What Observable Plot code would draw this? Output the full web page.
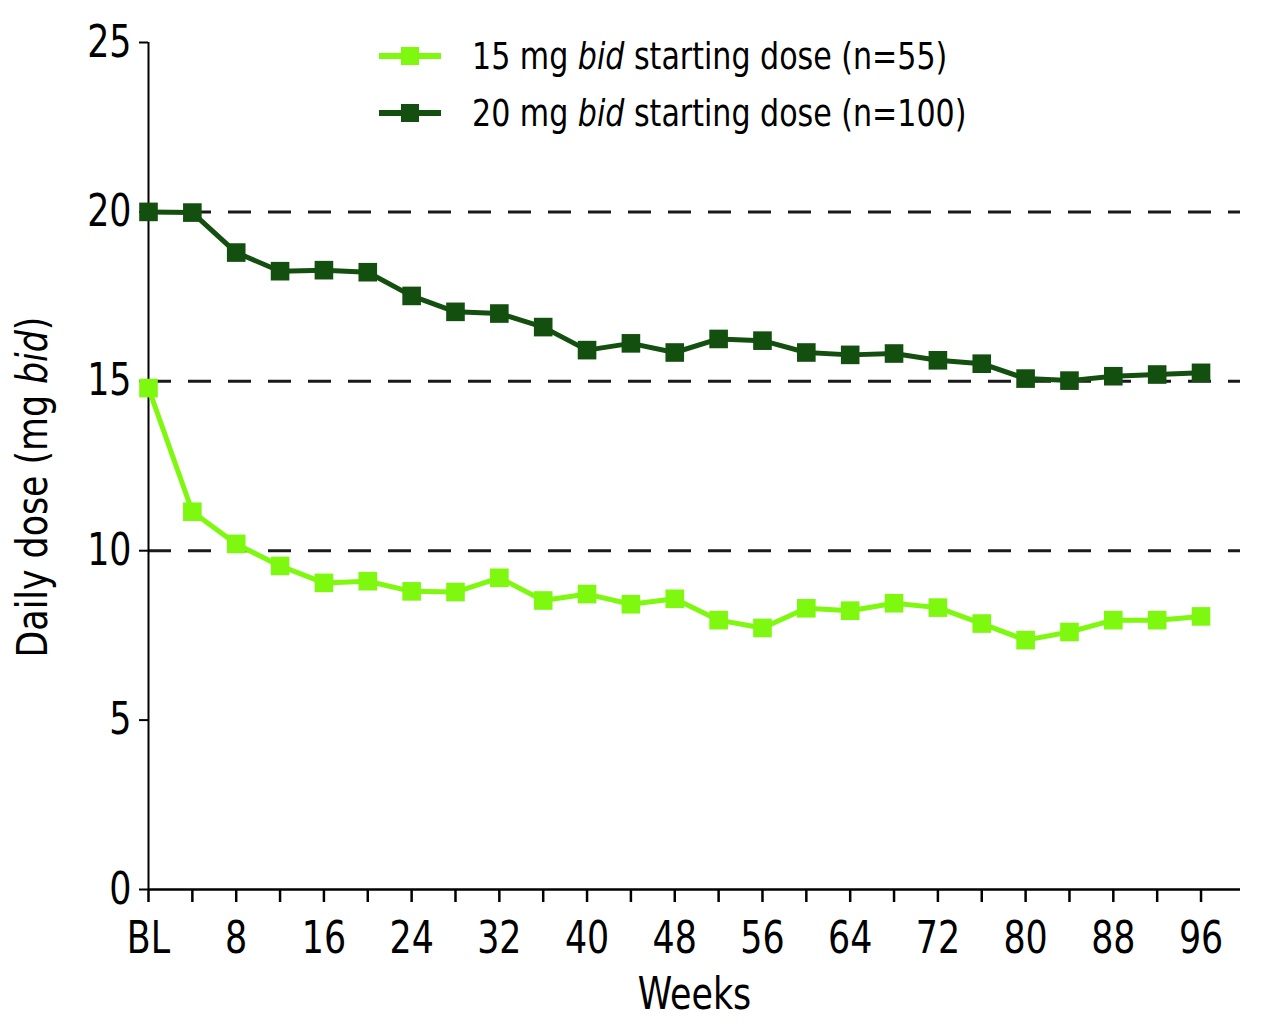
<!DOCTYPE html>
<html>
<head>
<meta charset="utf-8">
<script src="https://cdn.jsdelivr.net/npm/d3@7"></script>
<script src="https://cdn.jsdelivr.net/npm/@observablehq/plot@0.6"></script>
<style>
  body { margin: 0; background: #fff; }
  #wrap { position: relative; width: 1280px; height: 1024px; font-family: "Liberation Sans Narrow", "DejaVu Sans Condensed", "Liberation Sans", sans-serif; color: #000; }
  .leg { position: absolute; left: 378px; height: 50px; display: flex; align-items: center; font-size: 38px; white-space: nowrap; }
  .leg svg { margin-right: 30px; flex: none; }
  .leg span { display: inline-block; transform: scaleX(0.88); transform-origin: left center; }
  #ylab { position: absolute; left: 32px; top: 487px; transform: translate(-50%, -50%) rotate(-90deg) scaleX(0.92); font-size: 42px; white-space: nowrap; }
</style>
</head>
<body>
<div id="wrap">
  <div id="ylab">Daily dose (mg <i>bid</i>)</div>
</div>
<script>
// ---- data ----
const weeks = [0, 4, 8, 12, 16, 20, 24, 28, 32, 36, 40, 44, 48, 52, 56, 60, 64, 68, 72, 76, 80, 84, 88, 92, 96];
const dose15 = [14.8, 11.15, 10.2, 9.55, 9.05, 9.1, 8.8, 8.78, 9.2, 8.53, 8.72, 8.42, 8.58, 7.95, 7.72, 8.3, 8.23, 8.45, 8.32, 7.85, 7.36, 7.6, 7.95, 7.95, 8.06];
const dose20 = [20.0, 19.98, 18.8, 18.25, 18.28, 18.22, 17.52, 17.05, 17.0, 16.6, 15.92, 16.12, 15.85, 16.25, 16.2, 15.85, 15.78, 15.82, 15.62, 15.52, 15.08, 15.02, 15.15, 15.2, 15.25];
const seriesLabels = ["15 mg bid starting dose (n=55)", "20 mg bid starting dose (n=100)"];
const seriesColors = ["#7ef80e", "#134f0e"];
const refLines = [10, 15, 20];
const yTicks = [0, 5, 10, 15, 20, 25];
const xMinorTicks = [0, 4, 8, 12, 16, 20, 24, 28, 32, 36, 40, 44, 48, 52, 56, 60, 64, 68, 72, 76, 80, 84, 88, 92, 96];
const xMajorTicks = [0, 8, 16, 24, 32, 40, 48, 56, 64, 72, 80, 88, 96];
const xTickLabels = ["BL", "8", "16", "24", "32", "40", "48", "56", "64", "72", "80", "88", "96"];
const xDomain = [0, 99.6];
const yDomain = [0, 25];

const rows = [
  ...weeks.map((w, i) => ({week: w, dose: dose15[i], series: seriesLabels[0]})),
  ...weeks.map((w, i) => ({week: w, dose: dose20[i], series: seriesLabels[1]}))
];

const font = '"Liberation Sans Narrow", "DejaVu Sans Condensed", "Liberation Sans", sans-serif';

const chart = Plot.plot({
  width: 1280,
  height: 1024,
  marginLeft: 148,
  marginRight: 40,
  marginTop: 42,
  marginBottom: 135,
  style: {fontFamily: font, fontSize: "44px", color: "#000", background: "#fff", overflow: "visible"},
  x: {domain: xDomain},
  y: {domain: yDomain},
  color: {domain: seriesLabels, range: seriesColors},
  marks: [
    Plot.ruleY(refLines, {x1: xDomain[0], x2: xDomain[1], stroke: "#1a1a1a", strokeWidth: 3, strokeDasharray: "23,17"}),
    Plot.ruleX([xDomain[0]], {y1: yDomain[0], y2: yDomain[1], stroke: "#000", strokeWidth: 2}),
    Plot.ruleY([yDomain[0]], {x1: xDomain[0], x2: xDomain[1], stroke: "#000", strokeWidth: 2.5}),
    Plot.axisY(yTicks, {tickSize: 9, tickPadding: 8, strokeWidth: 2, fontSize: 44, label: null}),
    Plot.axisX(xMinorTicks, {tickSize: 13, strokeWidth: 2.5, tickFormat: () => "", label: null}),
    Plot.axisX(xMajorTicks, {tickSize: 0, tickPadding: 32, fontSize: 44,
      tickFormat: d => xTickLabels[xMajorTicks.indexOf(d)],
      label: "Weeks", labelAnchor: "center", labelArrow: "none", labelOffset: 119}),
    Plot.line(rows, {x: "week", y: "dose", stroke: "series", strokeWidth: 5, strokeLinejoin: "round"}),
    Plot.dot(rows, {x: "week", y: "dose", fill: "series", symbol: "square", r: 10.5})
  ]
});

const wrap = document.getElementById("wrap");
wrap.insertBefore(chart, wrap.firstChild);

// narrow the SVG text horizontally (condensed look of the original) without moving it
d3.select(chart).selectAll("text").each(function () {
  const len = this.getComputedTextLength();
  if (len > 0) {
    this.setAttribute("textLength", (len * 0.88).toFixed(1));
    this.setAttribute("lengthAdjust", "spacingAndGlyphs");
  }
});

// legend overlay
const legTops = [31, 88];
seriesLabels.forEach((lab, i) => {
  const d = document.createElement("div");
  d.className = "leg";
  d.style.top = legTops[i] + "px";
  const parts = lab.split(" bid ");
  d.innerHTML = `<svg width="64" height="24"><line x1="1" x2="63" y1="12" y2="12" stroke="${seriesColors[i]}" stroke-width="6"/><rect x="23" y="3" width="18" height="18" fill="${seriesColors[i]}"/></svg><span>${parts[0]} <i>bid</i> ${parts[1]}</span>`;
  wrap.appendChild(d);
});
</script>
</body>
</html>
